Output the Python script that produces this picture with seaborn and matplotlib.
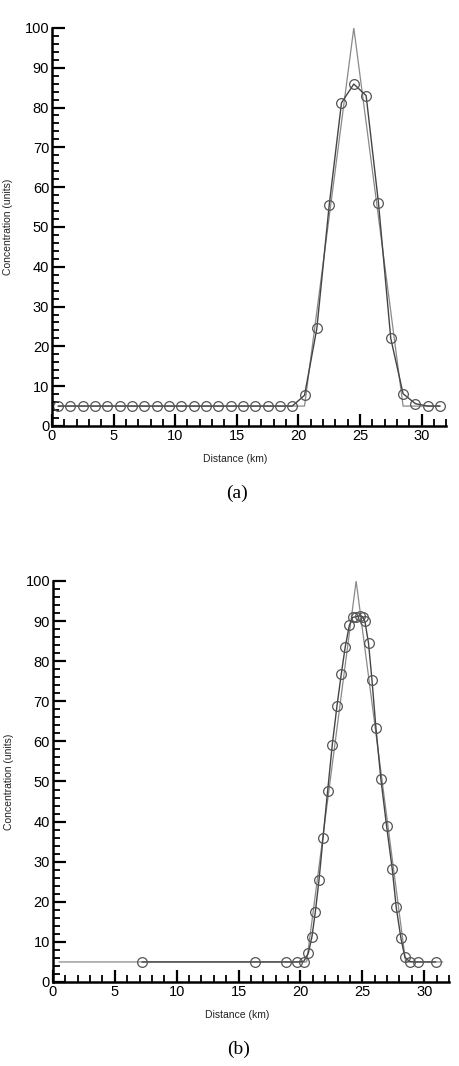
import matplotlib
matplotlib.use("Agg")
import matplotlib.pyplot as plt
import seaborn as sns
from matplotlib.ticker import MultipleLocator

# exact solution (triangle pulse), same in both panels
exact_x = [0.5, 20.5, 24.5, 28.5, 31.5]
exact_y = [5, 5, 100, 5, 5]

# (a) uniform grid solution
a_x = [0.5, 1.5, 2.5, 3.5, 4.5, 5.5, 6.5, 7.5, 8.5, 9.5, 10.5, 11.5, 12.5, 13.5,
       14.5, 15.5, 16.5, 17.5, 18.5, 19.5, 20.5, 21.5, 22.5, 23.5, 24.5, 25.5,
       26.5, 27.5, 28.5, 29.5, 30.5, 31.5]
a_y = [5, 5, 5, 5, 5, 5, 5, 5, 5, 5, 5, 5, 5, 5,
       5, 5, 5, 5, 5, 5, 7.7, 24.5, 55.4, 81.2, 85.9, 83.0,
       56.1, 22.0, 8.1, 5.6, 5.0, 5.0]

# (b) adaptive grid solution
b_x = [7.2, 16.3, 18.8, 19.7, 20.26, 20.64, 20.93, 21.2, 21.5, 21.82, 22.2,
       22.57, 22.95, 23.3, 23.62, 23.95, 24.21, 24.51, 24.78, 25.02, 25.21,
       25.5, 25.78, 26.1, 26.5, 26.96, 27.42, 27.74, 28.12, 28.44, 28.82,
       29.46, 30.92]
b_y = [5, 5, 5, 5, 5.1, 7.2, 11.3, 17.4, 25.4, 35.8, 47.7,
       59.1, 68.8, 76.8, 83.6, 88.9, 90.9, 91.1, 91.3, 91.1, 89.9,
       84.5, 75.3, 63.3, 50.6, 38.9, 28.1, 18.6, 10.9, 6.2, 5.1,
       5.0, 5.0]

sns.set_style("ticks")
plt.rcParams['font.family'] = ['Liberation Sans', 'DejaVu Sans']
plt.rcParams['text.color'] = 'black'
plt.rcParams['axes.labelcolor'] = 'black'

fig = plt.figure(figsize=(4.6, 10.66), dpi=100)
ax_a = fig.add_axes([0.113, 0.6004, 0.857, 0.3734])
ax_b = fig.add_axes([0.115, 0.0788, 0.861, 0.3762])


def draw(ax, x, y, caption):
    sns.lineplot(x=exact_x, y=exact_y, ax=ax, color="#8a8a8a", linewidth=0.9,
                 estimator=None, sort=False)
    sns.lineplot(x=x, y=y, ax=ax, color="#444444", linewidth=1.0,
                 marker="o", markersize=7, markerfacecolor="none",
                 markeredgecolor="#555555", markeredgewidth=0.9,
                 estimator=None, sort=False)
    ax.set_xlim(0, 32)
    ax.set_ylim(0, 100)
    ax.xaxis.set_major_locator(MultipleLocator(5))
    ax.xaxis.set_minor_locator(MultipleLocator(1))
    ax.yaxis.set_major_locator(MultipleLocator(10))
    ax.yaxis.set_minor_locator(MultipleLocator(2))
    ax.tick_params(which="major", direction="in", length=9, width=1.6,
                   labelsize=10.5, pad=2, color="black", labelcolor="black")
    ax.tick_params(which="minor", direction="in", length=5, width=1.3,
                   color="black")
    for s in ["top", "right"]:
        ax.spines[s].set_visible(False)
    for s in ["left", "bottom"]:
        ax.spines[s].set_linewidth(1.8)
        ax.spines[s].set_color("black")
    ax.set_xlabel("Distance (km)", fontsize=7.5, labelpad=8, color="#222222",
                  x=0.465)
    ax.set_ylabel("Concentration (units)", fontsize=7.5, labelpad=8,
                  color="#222222")
    ax.text(0.47, -0.168, caption, transform=ax.transAxes, ha="center",
            va="center", fontsize=14, family=["Liberation Serif"])


draw(ax_a, a_x, a_y, "(a)")
draw(ax_b, b_x, b_y, "(b)")

fig.savefig("out.png", dpi=100)
